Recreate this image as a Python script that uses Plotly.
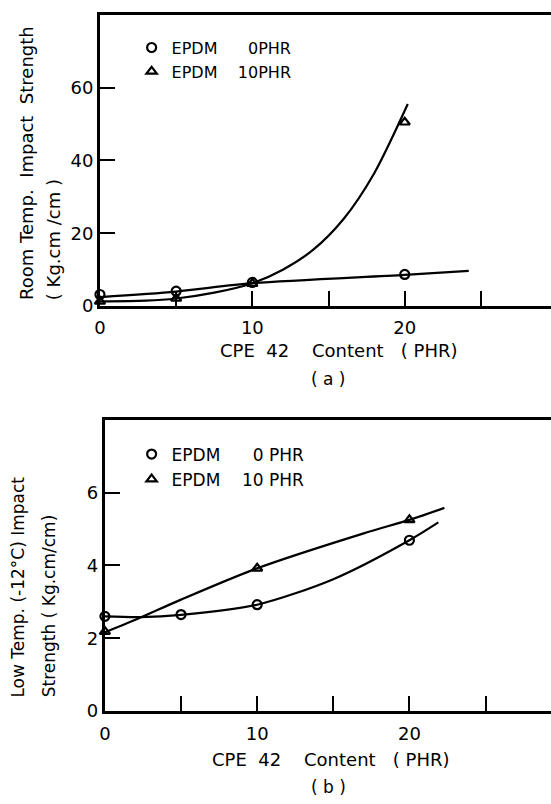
import plotly.graph_objects as go

W, H = 551, 804
NB = "\u00a0"

# ---------------- data ----------------
# Panel (a): room temperature impact strength
a_x0 = [0, 5, 10, 20]
a_y0 = [3.2, 4.1, 6.5, 8.7]           # EPDM 0 PHR (circles)
a_x10 = [0, 5, 10, 20]
a_y10 = [1.3, 2.1, 6.2, 50.5]         # EPDM 10 PHR (triangles)
a_fit0_x = [0, 5, 10, 20, 24.2]
a_fit0_y = [2.5, 4.0, 6.3, 8.6, 9.7]
a_fit10_x = [0, 3, 5, 7.5, 10, 12, 14, 16, 18, 20.2]
a_fit10_y = [1.3, 1.5, 2.1, 3.7, 6.3, 10.0, 15.5, 24.0, 36.5, 55.5]

# Panel (b): low temperature (-12 C) impact strength
b_x0 = [0, 5, 10, 20]
b_y0 = [2.6, 2.65, 2.92, 4.69]
b_x10 = [0, 10, 20]
b_y10 = [2.18, 3.92, 5.25]
b_fit0_x = [0, 2.3, 5, 10, 15, 20, 21.9]
b_fit0_y = [2.6, 2.58, 2.64, 2.92, 3.62, 4.69, 5.18]
b_fit10_x = [0, 2.3, 5, 10, 17, 20, 22.3]
b_fit10_y = [2.16, 2.56, 3.06, 3.92, 4.88, 5.25, 5.58]

a_names = ["EPDM" + NB * 6 + "0PHR", "EPDM" + NB * 4 + "10PHR"]
b_names = ["EPDM" + NB * 6 + "0" + NB + "PHR", "EPDM" + NB * 4 + "10" + NB + "PHR"]

x_tickvals = [0, 5, 10, 15, 20, 25]
x_ticktext = ["0", "", "10", "", "20", ""]
a_ytickvals = [0, 20, 40, 60]
b_ytickvals = [0, 2, 4, 6]

FONT = "DejaVu Sans"

fig = go.Figure()

line_style = dict(color="black", width=2.2, shape="spline", smoothing=0.8)
mk_line = dict(width=2.2)
# panel (a)
fig.add_trace(go.Scatter(x=a_fit0_x, y=a_fit0_y, mode="lines", line=line_style,
                         showlegend=False, xaxis="x", yaxis="y", hoverinfo="skip"))
fig.add_trace(go.Scatter(x=a_fit10_x, y=a_fit10_y, mode="lines", line=line_style,
                         showlegend=False, xaxis="x", yaxis="y", hoverinfo="skip"))
fig.add_trace(go.Scatter(x=a_x0, y=a_y0, mode="markers", name=a_names[0],
                         marker=dict(symbol="circle-open", size=9, color="black", line=mk_line),
                         cliponaxis=False, xaxis="x", yaxis="y", legend="legend"))
fig.add_trace(go.Scatter(x=a_x10, y=a_y10, mode="markers", name=a_names[1],
                         marker=dict(symbol="triangle-up-open", size=9, color="black", line=mk_line),
                         cliponaxis=False, xaxis="x", yaxis="y", legend="legend"))
# panel (b)
fig.add_trace(go.Scatter(x=b_fit0_x, y=b_fit0_y, mode="lines", line=line_style,
                         showlegend=False, xaxis="x2", yaxis="y2", hoverinfo="skip"))
fig.add_trace(go.Scatter(x=b_fit10_x, y=b_fit10_y, mode="lines", line=line_style,
                         showlegend=False, xaxis="x2", yaxis="y2", hoverinfo="skip"))
fig.add_trace(go.Scatter(x=b_x0, y=b_y0, mode="markers", name=b_names[0],
                         marker=dict(symbol="circle-open", size=9, color="black", line=mk_line),
                         cliponaxis=False, xaxis="x2", yaxis="y2", legend="legend2"))
fig.add_trace(go.Scatter(x=b_x10, y=b_y10, mode="markers", name=b_names[1],
                         marker=dict(symbol="triangle-up-open", size=9, color="black", line=mk_line),
                         cliponaxis=False, xaxis="x2", yaxis="y2", legend="legend2"))


def px(x):
    return x / W


def py(y):
    return (H - y) / H


axis_common = dict(showline=True, linewidth=3, linecolor="black", showgrid=False, zeroline=False,
                   ticks="inside", ticklen=15, tickwidth=2, tickcolor="black",
                   tickfont=dict(family=FONT, size=18, color="black"))

fig.update_layout(
    width=W, height=H,
    margin=dict(l=0, r=0, t=0, b=0),
    paper_bgcolor="white", plot_bgcolor="white",
    font=dict(family=FONT, color="black", size=16),
    xaxis=dict(domain=[px(95), 1], range=[0, 29.6], anchor="y", mirror=True, ticklabelstandoff=3,
               tickmode="array", tickvals=x_tickvals, ticktext=x_ticktext, **axis_common),
    yaxis=dict(domain=[py(310), py(15)], range=[0, 80], anchor="x",
               tickmode="array", tickvals=a_ytickvals, **axis_common),
    xaxis2=dict(domain=[px(100), 1], range=[0, 29.3], anchor="y2", mirror=True, ticklabelstandoff=4,
                tickmode="array", tickvals=x_tickvals, ticktext=x_ticktext, **axis_common),
    yaxis2=dict(domain=[py(720), py(425)], range=[0, 8], anchor="x2",
                tickmode="array", tickvals=b_ytickvals, **axis_common),
    legend=dict(x=px(127), y=py(31), xanchor="left", yanchor="top", bgcolor="rgba(0,0,0,0)",
                font=dict(family=FONT, size=16, color="black")),
    legend2=dict(x=px(127), y=py(442), xanchor="left", yanchor="top", bgcolor="rgba(0,0,0,0)",
                 font=dict(family=FONT, size=17, color="black")),
)

ann_font = dict(family=FONT, size=17, color="black")
title_font = dict(family=FONT, size=18, color="black")
annotations = [
    # y titles panel (a)
    dict(text="Room" + NB + "Temp." + NB * 2 + "Impact" + NB * 2 + "Strength", x=px(20), y=py(306),
         xanchor="center", yanchor="bottom", textangle=-90, font=title_font),
    dict(text="(" + NB + "Kg.cm" + NB + "/cm" + NB + ")", x=px(48), y=py(306),
         xanchor="center", yanchor="bottom", textangle=-90, font=title_font),
    # x title panel (a)
    dict(text="CPE" + NB * 2 + "42" + NB * 4 + "Content" + NB * 3 + "(" + NB + "PHR)", x=px(336), y=py(355),
         xanchor="center", yanchor="middle", font=title_font),
    dict(text="(" + NB + "a" + NB + ")", x=px(326), y=py(384), xanchor="center", yanchor="middle"),
    # y titles panel (b)
    dict(text="Low" + NB + "Temp." + NB + "(-12°C)" + NB + "Impact", x=px(12), y=py(708),
         xanchor="center", yanchor="bottom", textangle=-90),
    dict(text="Strength" + NB + "(" + NB + "Kg.cm/cm)", x=px(43), y=py(708),
         xanchor="center", yanchor="bottom", textangle=-90),
    # x title panel (b)
    dict(text="CPE" + NB * 2 + "42" + NB * 4 + "Content" + NB * 3 + "(" + NB + "PHR)", x=px(328), y=py(769),
         xanchor="center", yanchor="middle", font=title_font),
    dict(text="(" + NB + "b" + NB + ")", x=px(326), y=py(797), xanchor="center", yanchor="middle"),
]
for a in annotations:
    a.update(xref="paper", yref="paper", showarrow=False)
    a.setdefault("font", ann_font)
fig.update_layout(annotations=annotations)

fig.write_html("out.html")
